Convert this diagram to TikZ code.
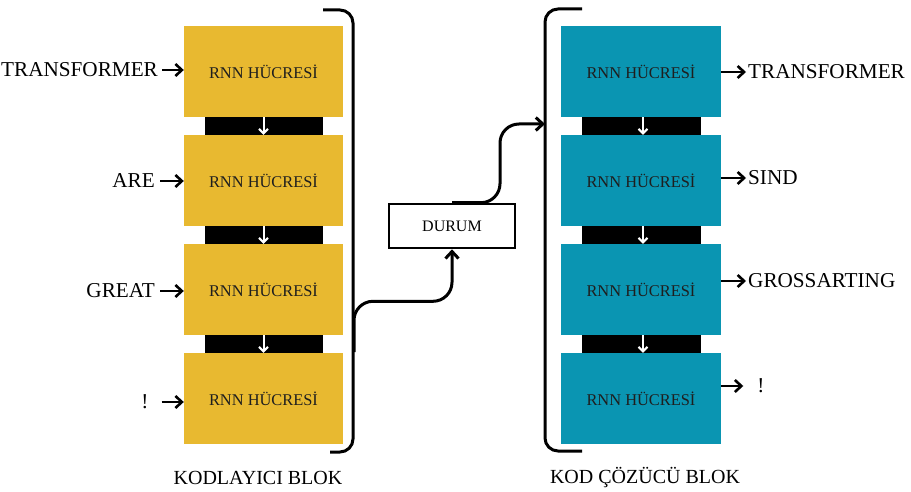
\documentclass[tikz,border=0pt]{standalone}
\usepackage{fontspec}
\setmainfont{Liberation Serif}
\usetikzlibrary{arrows.meta,calc}

\definecolor{encfill}{RGB}{232,185,48}
\definecolor{decfill}{RGB}{10,149,178}
\definecolor{celltext}{RGB}{30,30,30}

\begin{document}
\begin{tikzpicture}[x=1pt,y=-1pt,
  cell/.style={draw=none,minimum width=159,minimum height=91,inner sep=0,
    text=celltext,font=\fontsize{16.4}{19}\selectfont},
  enccell/.style={cell,fill=encfill},
  deccell/.style={cell,fill=decfill,minimum width=160},
  word/.style={inner sep=0,font=\fontsize{21.2}{25}\selectfont},
  caption/.style={inner sep=0,font=\fontsize{20}{24}\selectfont},
  tip/.style={-{Straight Barb[length=6.5,width=12]},line width=2.6},
  down/.style={draw=white,line width=2,-{Straight Barb[length=4.5,width=9]}},
  brace/.style={line width=3,rounded corners=13},
  conn/.style={line width=3,rounded corners=19,-{Straight Barb[length=7,width=13]}},
  gap/.style={fill=black,draw=none}
]
\useasboundingbox (0,0) rectangle (911,492);

% ---- encoder column ----
\fill[gap] (205,117) rectangle (323,135);
\fill[gap] (205,226) rectangle (323,244);
\fill[gap] (205,335) rectangle (323,353);
\node[enccell] (e1) at (263.5,71.5)  {RNN HÜCRESİ};
\node[enccell] (e2) at (263.5,180.5) {RNN HÜCRESİ};
\node[enccell] (e3) at (263.5,289.5) {RNN HÜCRESİ};
\node[enccell] (e4) at (263.5,398.5) {RNN HÜCRESİ};
\draw[down] (e1.south) -- (e2.north);
\draw[down] (e2.south) -- (e3.north);
\draw[down] (e3.south) -- (e4.north);

% ---- decoder column ----
\fill[gap] (582,117) rectangle (701,135);
\fill[gap] (582,226) rectangle (701,244);
\fill[gap] (582,335) rectangle (701,353);
\node[deccell] (d1) at (641,71.5)  {RNN HÜCRESİ};
\node[deccell] (d2) at (641,180.5) {RNN HÜCRESİ};
\node[deccell] (d3) at (641,289.5) {RNN HÜCRESİ};
\node[deccell] (d4) at (641,398.5) {RNN HÜCRESİ};
\draw[down] ([xshift=2]d1.south) -- ([xshift=2]d2.north);
\draw[down] ([xshift=2]d2.south) -- ([xshift=2]d3.north);
\draw[down] ([xshift=2]d3.south) -- ([xshift=2]d4.north);

% ---- input words ----
\node[word,anchor=west] (i1) at (1,70)  {TRANSFORMER};
\node[word,anchor=east] (i2) at (155,181) {ARE};
\node[word,anchor=east] (i3) at (155,291) {GREAT};
\node[word] (i4) at (145,402) {!};
\draw[tip] ([xshift=4]i1.east) -- (i1.east -| e1.west);
\draw[tip] ([xshift=5]i2.east) -- (i2.east -| e2.west);
\draw[tip] ([xshift=5]i3.east) -- (i3.east -| e3.west);
\draw[tip] ([xshift=13]i4.east) -- (i4.east -| e4.west);

% ---- output words ----
\node[word,anchor=west] (o1) at (748,72)  {TRANSFORMER};
\node[word,anchor=west] (o2) at (748,178) {SIND};
\node[word,anchor=west] (o3) at (748,281) {GROSSARTING};
\node[word] (o4) at (761,386) {!};
\draw[tip] (o1.west -| d1.east) -- ([xshift=-2]o1.west);
\draw[tip] (o2.west -| d2.east) -- ([xshift=-2]o2.west);
\draw[tip] (o3.west -| d3.east) -- ([xshift=-2]o3.west);
\draw[tip] (o4.west -| d4.east) -- ([xshift=-14]o4.west);

% ---- brackets around the two blocks ----
\draw[brace] (323,10) -- (353,10) -- (353,452) -- (330,452);
\draw[brace] (582,9) -- (545,9) -- (545,451) -- (582,451);

% ---- state box and its connectors ----
\node[draw,line width=2.6,minimum width=126,minimum height=44,inner sep=0,
  font=\fontsize{16}{19}\selectfont] (dur) at (452,226) {DURUM};
\coordinate (encout) at (354,352);
\coordinate (decin) at (545,124);
\draw[conn] (encout) |- ($(dur.south)+(0,52)$) -- (dur.south);
\draw[conn] (dur.north) -- ($(dur.north)+(48,0)$) |- (decin);

% ---- block captions ----
\node[caption] (cap1) at (258,478) {KODLAYICI BLOK};
\node[caption] (cap2) at (645,478) {KOD ÇÖZÜCÜ BLOK};
\end{tikzpicture}
\end{document}
